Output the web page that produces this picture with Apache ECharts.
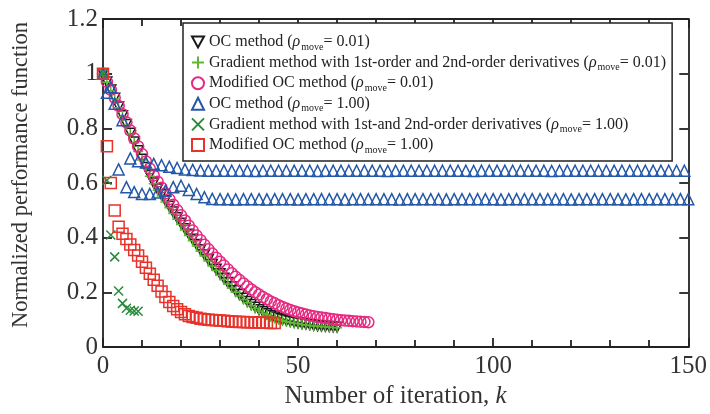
<!DOCTYPE html>
<html>
<head>
<meta charset="utf-8">
<script src="https://cdn.jsdelivr.net/npm/echarts@6/dist/echarts.min.js"></script>
<style>
  html, body { margin: 0; padding: 0; background: #fff; }
  #chart { width: 710px; height: 414px; }
</style>
</head>
<body>
<div id="chart"></div>
<script>
// Normalized performance function vs. iteration number k (index = k)

// OC method, rho_move = 0.01
const ocSmall = [
  1.000, 0.970, 0.940, 0.910, 0.878, 0.846, 0.814, 0.782, 0.750, 0.718,
  0.687, 0.657, 0.628, 0.600, 0.578, 0.557, 0.536, 0.515, 0.494, 0.473,
  0.453, 0.433, 0.413, 0.394, 0.375, 0.356, 0.338, 0.320, 0.302, 0.285,
  0.268, 0.252, 0.236, 0.221, 0.206, 0.192, 0.179, 0.167, 0.156, 0.146,
  0.137, 0.129, 0.122, 0.116, 0.110, 0.105, 0.101, 0.097, 0.094, 0.091,
  0.088, 0.086, 0.084, 0.082, 0.080, 0.078, 0.077, 0.076, 0.075, 0.074,
  0.073
];

// Gradient method with 1st- and 2nd-order derivatives, rho_move = 0.01
const gradSmall = [
  1.000, 0.969, 0.938, 0.907, 0.875, 0.843, 0.811, 0.779, 0.747, 0.715,
  0.684, 0.654, 0.625, 0.597, 0.574, 0.553, 0.531, 0.510, 0.489, 0.468,
  0.448, 0.428, 0.408, 0.389, 0.370, 0.351, 0.333, 0.315, 0.297, 0.280,
  0.263, 0.247, 0.231, 0.216, 0.201, 0.187, 0.174, 0.162, 0.151, 0.141,
  0.132, 0.124, 0.117, 0.111, 0.106, 0.101, 0.097, 0.093, 0.090, 0.087,
  0.085, 0.083, 0.081, 0.079, 0.077, 0.076, 0.075, 0.074, 0.073, 0.072,
  0.071
];

// Modified OC method, rho_move = 0.01
const modSmall = [
  1.000, 0.970, 0.941, 0.912, 0.882, 0.852, 0.822, 0.792, 0.763, 0.734,
  0.706, 0.679, 0.653, 0.628, 0.605, 0.583, 0.562, 0.541, 0.521, 0.501,
  0.482, 0.463, 0.444, 0.426, 0.408, 0.391, 0.374, 0.358, 0.342, 0.327,
  0.312, 0.298, 0.284, 0.270, 0.257, 0.245, 0.233, 0.222, 0.211, 0.201,
  0.192, 0.183, 0.175, 0.167, 0.160, 0.153, 0.147, 0.141, 0.136, 0.131,
  0.127, 0.123, 0.119, 0.116, 0.113, 0.110, 0.108, 0.106, 0.104, 0.102,
  0.100, 0.098, 0.097, 0.096, 0.095, 0.094, 0.093, 0.092, 0.091
];

// OC method, rho_move = 1.00 (oscillates between two levels)
const ocLarge = [
  1.000, 0.930, 0.950, 0.890, 0.650, 0.830, 0.585, 0.690, 0.567, 0.680,
  0.560, 0.675, 0.560, 0.670, 0.565, 0.665, 0.572, 0.660, 0.585, 0.655,
  0.590, 0.650, 0.575, 0.648, 0.560, 0.646, 0.548, 0.645, 0.542, 0.645,
  0.541, 0.645, 0.541, 0.645, 0.540, 0.645, 0.541, 0.645, 0.541, 0.644,
  0.541, 0.645, 0.540, 0.645, 0.541, 0.645, 0.541, 0.645, 0.541, 0.645,
  0.540, 0.645, 0.541, 0.645, 0.541, 0.644, 0.541, 0.645, 0.541, 0.645,
  0.541, 0.645, 0.540, 0.645, 0.541, 0.645, 0.541, 0.645, 0.541, 0.645,
  0.541, 0.645, 0.541, 0.644, 0.541, 0.645, 0.540, 0.645, 0.541, 0.645,
  0.541, 0.645, 0.541, 0.645, 0.541, 0.645, 0.541, 0.645, 0.540, 0.645,
  0.541, 0.645, 0.541, 0.645, 0.541, 0.644, 0.541, 0.645, 0.541, 0.645,
  0.541, 0.645, 0.540, 0.645, 0.541, 0.645, 0.541, 0.645, 0.541, 0.645,
  0.541, 0.645, 0.541, 0.645, 0.541, 0.644, 0.541, 0.645, 0.541, 0.645,
  0.540, 0.645, 0.541, 0.645, 0.541, 0.645, 0.541, 0.645, 0.541, 0.645,
  0.541, 0.645, 0.541, 0.645, 0.540, 0.645, 0.541, 0.645, 0.541, 0.645,
  0.541, 0.645, 0.541, 0.645, 0.541, 0.645, 0.541, 0.645, 0.541, 0.645,
  0.541
];

// Gradient method with 1st- and 2nd-order derivatives, rho_move = 1.00
const gradLarge = [1.000, 0.610, 0.410, 0.330, 0.205, 0.160, 0.142, 0.135, 0.132, 0.131];

// Modified OC method, rho_move = 1.00
const modLarge = [
  1.000, 0.735, 0.600, 0.500, 0.440, 0.415, 0.395, 0.375, 0.355, 0.335,
  0.312, 0.290, 0.268, 0.246, 0.224, 0.203, 0.183, 0.165, 0.150, 0.138,
  0.128, 0.120, 0.114, 0.110, 0.107, 0.104, 0.102, 0.100, 0.099, 0.098,
  0.097, 0.096, 0.095, 0.094, 0.093, 0.092, 0.092, 0.091, 0.091, 0.090,
  0.090, 0.089, 0.089, 0.088, 0.088
];

const seriesNames = [
  'OC method (ρmove= 0.01)',
  'Gradient method with 1st-order and 2nd-order derivatives (ρmove= 0.01)',
  'Modified OC method (ρmove= 0.01)',
  'OC method (ρmove= 1.00)',
  'Gradient method with 1st-and 2nd-order derivatives (ρmove= 1.00)',
  'Modified OC method (ρmove= 1.00)'
];
const legendPrefix = [
  'OC method (',
  'Gradient method with 1st-order and 2nd-order derivatives (',
  'Modified OC method (',
  'OC method (',
  'Gradient method with 1st-and 2nd-order derivatives (',
  'Modified OC method ('
];
const legendRho = ['0.01', '0.01', '0.01', '1.00', '1.00', '1.00'];

const yTickLabels = ['0', '0.2', '0.4', '0.6', '0.8', '1', '1.2'];
const xTickLabels = ['0', '50', '100', '150'];

const serif = '"Liberation Serif", "Times New Roman", "DejaVu Serif", serif';

const markerDefs = [
  { data: ocSmall,   symbol: 'path://M0,0 L10,0 L5,9 Z',           color: '#1a1a1a', size: 10 },
  { data: gradSmall, symbol: 'path://M5,0 L5,10 M0,5 L10,5',       color: '#5cb82e', size: 10 },
  { data: modSmall,  symbol: 'circle',                             color: '#e6287f', size: 11 },
  { data: ocLarge,   symbol: 'triangle',                           color: '#2457a8', size: 11 },
  { data: gradLarge, symbol: 'path://M0,0 L10,10 M10,0 L0,10',     color: '#2a8a3c', size: 9 },
  { data: modLarge,  symbol: 'rect',                               color: '#e8322a', size: 11 }
];

const series = markerDefs.map((d, i) => ({
  name: seriesNames[i],
  type: 'scatter',
  xAxisIndex: 0,
  yAxisIndex: 0,
  symbol: d.symbol,
  symbolSize: d.size,
  data: d.data.map((v, k) => [k, v]),
  itemStyle: {
    color: 'rgba(255,255,255,0)',
    borderColor: d.color,
    borderWidth: 1.5,
    opacity: 1
  },
  emphasis: { disabled: true },
  z: 2 + i
}));

const axisLineStyle = { color: '#222', width: 1.8 };

const chart = echarts.init(document.getElementById('chart'), null, { renderer: 'canvas' });
chart.setOption({
  animation: false,
  backgroundColor: '#fff',
  grid: { left: 103, right: 21, top: 19, bottom: 66 },
  legend: {
    orient: 'vertical',
    left: 183,
    top: 23,
    padding: [11, 6, 6, 8],
    itemGap: 2.6,
    itemWidth: 12,
    itemHeight: 12,
    selectedMode: false,
    backgroundColor: '#fff',
    borderColor: '#222',
    borderWidth: 1.5,
    borderRadius: 0,
    z: 20,
    data: seriesNames,
    formatter: function (name) {
      const i = seriesNames.indexOf(name);
      return '{t|' + legendPrefix[i] + '}{r|ρ}{s|move}{t|= ' + legendRho[i] + ')}';
    },
    textStyle: {
      fontFamily: serif,
      fontSize: 16,
      color: '#222',
      rich: {
        t: { fontFamily: serif, fontSize: 16, color: '#222' },
        r: { fontFamily: serif, fontSize: 16, fontStyle: 'italic', color: '#222' },
        s: { fontFamily: serif, fontSize: 10, color: '#222', padding: [10, 0, 0, 1] }
      }
    }
  },
  xAxis: [
    {
      type: 'value',
      min: 0, max: 150, interval: 50,
      position: 'bottom',
      name: '{a|Number of iteration, }{i|k}',
      nameLocation: 'middle',
      nameGap: 35,
      nameTextStyle: {
        rich: {
          a: { fontFamily: serif, fontSize: 25, color: '#333' },
          i: { fontFamily: serif, fontSize: 25, fontStyle: 'italic', color: '#333' }
        }
      },
      axisLine: { show: true, onZero: false, lineStyle: axisLineStyle },
      axisTick: { show: true, inside: true, length: 9, lineStyle: axisLineStyle },
      minorTick: { show: true, splitNumber: 5, length: 7, lineStyle: axisLineStyle },
      splitLine: { show: false },
      axisLabel: {
        fontFamily: serif, fontSize: 25, color: '#333', margin: 7,
        formatter: v => xTickLabels[xTickLabels.indexOf(String(v))]
      }
    },
    {
      type: 'value',
      min: 0, max: 150, interval: 50,
      position: 'top',
      axisLine: { show: true, onZero: false, lineStyle: axisLineStyle },
      axisTick: { show: true, inside: true, length: 9, lineStyle: axisLineStyle },
      minorTick: { show: true, splitNumber: 5, length: 7, lineStyle: axisLineStyle },
      splitLine: { show: false },
      axisLabel: { show: false }
    }
  ],
  yAxis: [
    {
      type: 'value',
      min: 0, max: 1.2, interval: 0.2,
      position: 'left',
      name: 'Normalized performance function',
      nameLocation: 'middle',
      nameGap: 70,
      nameTextStyle: { fontFamily: serif, fontSize: 22.5, color: '#333', padding: [0, 0, 0, 16] },
      axisLine: { show: true, onZero: false, lineStyle: axisLineStyle },
      axisTick: { show: true, inside: true, length: 9, lineStyle: axisLineStyle },
      splitLine: { show: false },
      axisLabel: {
        fontFamily: serif, fontSize: 25, color: '#333', margin: 5,
        formatter: v => yTickLabels[Math.round(v / 0.2)]
      }
    },
    {
      type: 'value',
      min: 0, max: 1.2, interval: 0.2,
      position: 'right',
      axisLine: { show: true, onZero: false, lineStyle: axisLineStyle },
      axisTick: { show: true, inside: true, length: 9, lineStyle: axisLineStyle },
      splitLine: { show: false },
      axisLabel: { show: false }
    }
  ],
  series: series
});
</script>
</body>
</html>
